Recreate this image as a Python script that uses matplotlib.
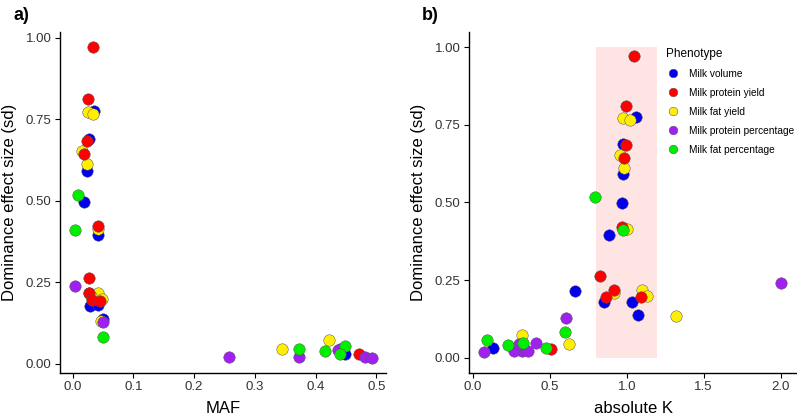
import matplotlib.pyplot as plt
import numpy as np
from matplotlib.lines import Line2D

plt.rcParams['font.family'] = ['Liberation Sans', 'DejaVu Sans']

# phenotype order (legend order) and colours
phenotypes = ['Milk volume', 'Milk protein yield', 'Milk fat yield',
              'Milk protein percentage', 'Milk fat percentage']
colors = ['#0000EE', '#FF0000', '#FFEE00', '#A020F0', '#00EE00']
draw_order = [0, 2, 1, 3, 4]   # blue, yellow, red, purple, green

# per SNP: MAF, absolute K, dominance effect size (sd)
vol_maf = [0.035, 0.027, 0.024, 0.018, 0.042, 0.027, 0.029, 0.041, 0.050, 0.449]
vol_k   = [1.060, 0.974, 0.974, 0.970, 0.887, 0.666, 0.853, 1.032, 1.076, 0.130]
vol_dom = [0.776, 0.689, 0.591, 0.497, 0.395, 0.216, 0.178, 0.180, 0.137, 0.030]

prot_maf = [0.034, 0.025, 0.024, 0.018, 0.042, 0.026, 0.027, 0.031, 0.045, 0.472]
prot_k   = [1.047, 0.995, 0.995, 0.985, 0.971, 0.829, 0.917, 0.868, 1.091, 0.506]
prot_dom = [0.971, 0.812, 0.685, 0.645, 0.422, 0.263, 0.218, 0.196, 0.194, 0.029]

fat_maf = [0.025, 0.033, 0.015, 0.024, 0.041, 0.042, 0.030, 0.048, 0.047, 0.422, 0.344]
fat_k   = [0.978, 1.021, 0.956, 0.982, 1.000, 1.097, 0.917, 1.134, 1.320, 0.318, 0.625]
fat_dom = [0.772, 0.767, 0.654, 0.612, 0.415, 0.218, 0.208, 0.199, 0.133, 0.073, 0.045]

pp_maf = [0.004, 0.050, 0.258, 0.372, 0.441, 0.437, 0.481, 0.493]
pp_k   = [2.005, 0.605, 0.318, 0.268, 0.411, 0.300, 0.361, 0.073]
pp_dom = [0.240, 0.127, 0.022, 0.020, 0.047, 0.043, 0.022, 0.019]

fp_maf = [0.008, 0.004, 0.050, 0.372, 0.416, 0.448, 0.441]
fp_k   = [0.797, 0.974, 0.598, 0.329, 0.231, 0.091, 0.474]
fp_dom = [0.517, 0.410, 0.082, 0.047, 0.040, 0.055, 0.030]

maf = [vol_maf, prot_maf, fat_maf, pp_maf, fp_maf]
absk = [vol_k, prot_k, fat_k, pp_k, fp_k]
dom = [vol_dom, prot_dom, fat_dom, pp_dom, fp_dom]

# highlighted K band
band_x = (0.8, 1.2)
band_y = (0.0, 1.0)

fig = plt.figure(figsize=(7.97, 4.15), dpi=100)
ax_a = fig.add_axes([0.0753, 0.1012, 0.409, 0.8217])
ax_b = fig.add_axes([0.5885, 0.1012, 0.4115, 0.8217])

ax_b.fill_betweenx(band_y, band_x[0], band_x[1], color='#FFE4E4', lw=0, zorder=0)

for z, i in enumerate(draw_order):
    ax_a.scatter(maf[i], dom[i], s=68, c=colors[i], edgecolors='#555555',
                 linewidths=0.35, zorder=2 + z)
    ax_b.scatter(absk[i], dom[i], s=68, c=colors[i], edgecolors='#555555',
                 linewidths=0.35, zorder=2 + z)

ax_a.set_xlim(-0.021, 0.516)
ax_a.set_ylim(-0.028, 1.018)
ax_b.set_xlim(-0.024, 2.106)
ax_b.set_ylim(-0.05, 1.05)

for ax, xl in [(ax_a, 'MAF'), (ax_b, 'absolute K')]:
    ax.spines['top'].set_visible(False)
    ax.spines['right'].set_visible(False)
    for s in ['left', 'bottom']:
        ax.spines[s].set_linewidth(1.0)
    ax.set_yticks([0, 0.25, 0.5, 0.75, 1.0])
    ax.yaxis.set_major_formatter(plt.FormatStrFormatter('%.2f'))
    ax.xaxis.set_major_formatter(plt.FormatStrFormatter('%.1f'))
    ax.tick_params(labelsize=9.5, labelcolor='#333333', length=3.5, width=0.8,
                   pad=2.5)
    ax.set_xlabel(xl, fontsize=12)
    ax.set_ylabel('Dominance effect size (sd)', fontsize=12)
    ax.xaxis.label.set_va('center')
    ax.yaxis.label.set_va('center')

ax_a.set_xticks([0, 0.1, 0.2, 0.3, 0.4, 0.5])
ax_b.set_xticks([0, 0.5, 1.0, 1.5, 2.0])
ax_a.xaxis.set_label_coords(0.5, -0.103)
ax_b.xaxis.set_label_coords(0.5, -0.103)
ax_a.yaxis.set_label_coords(-0.155, 0.5)
ax_b.yaxis.set_label_coords(-0.155, 0.5)

handles = [Line2D([], [], ls='', marker='o', ms=6.2, mfc=c, mec='#555555',
                  mew=0.35) for c in colors]
leg = ax_b.legend(handles, phenotypes, title='Phenotype', loc='upper left',
                  bbox_to_anchor=(662 / 797, 1 - 44 / 415),
                  bbox_transform=fig.transFigure, frameon=False,
                  fontsize=7.3, title_fontsize=8.5, labelspacing=0.88,
                  handletextpad=0.85, handlelength=1.45, borderaxespad=0)
leg._legend_box.align = 'left'

fig.text(13 / 797, 1 - 15 / 415, 'a)', fontsize=13, fontweight='bold',
         va='center', ha='left')
fig.text(422 / 797, 1 - 15 / 415, 'b)', fontsize=13, fontweight='bold',
         va='center', ha='left')

fig.savefig('out.png', dpi=100)
